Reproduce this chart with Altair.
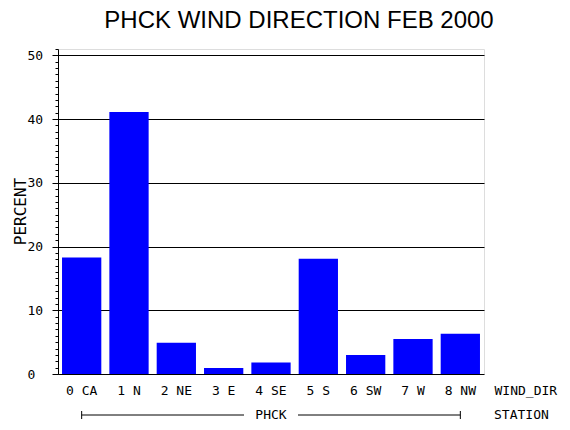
import altair as alt
import pandas as pd

directions = ["0 CA", "1 N", "2 NE", "3 E", "4 SE", "5 S", "6 SW", "7 W", "8 NW"]
percent = [18.3, 41.1, 4.9, 0.95, 1.8, 18.1, 3.0, 5.5, 6.3]
station = "PHCK"
chart_title = "PHCK WIND DIRECTION FEB 2000"
major_ticks = [0, 10, 20, 30, 40, 50]
minor_ticks = list(range(0, 52))

MONO = "DejaVu Sans Mono"

df = pd.DataFrame({"dir": directions, "pct": percent})
bracket = pd.DataFrame({"start": [directions[0]], "mid": [directions[4]], "end": [directions[-1]], "station": [station]})
ends = pd.DataFrame({"dir": [directions[0], directions[-1]]})

xscale = alt.Scale(domain=directions, paddingInner=0.17, paddingOuter=0.085)
yscale = alt.Scale(domain=[0, 51], nice=False)

xaxis = alt.Axis(title="WIND_DIR", labelAngle=0, labelFont=MONO, labelFontSize=13,
                 labelColor="black", ticks=False, domain=False, grid=False,
                 labelPadding=10, titleFont=MONO, titleFontSize=13, titleFontWeight="normal",
                 titleColor="black", titleX=436, titleY=16, titleAlign="left",
                 titleBaseline="middle", titleAngle=0)

bars = alt.Chart(df).mark_bar(color="#0000FF").encode(
    x=alt.X("dir:N", sort=directions, scale=xscale, axis=xaxis),
    y=alt.Y("pct:Q", scale=yscale,
            axis=alt.Axis(orient="left", values=major_ticks, tickSize=6, tickColor="black", labelAlign="left",
                          labelPadding=25, labelFont=MONO, labelFontSize=13, labelColor="black",
                          labelBaseline="middle",
                          grid=True, gridColor="black", gridOpacity=1, gridWidth=1,
                          domain=True, domainColor="black",
                          title="PERCENT", titleFont=MONO, titleFontSize=16, titleFontWeight="normal",
                          titleColor="black", titleAngle=270, titleX=-33, titleY=162,
                          titleBaseline="alphabetic", titleAlign="center")),
)

minor = alt.Chart(df).mark_point(opacity=0).encode(
    x=alt.X("dir:N", sort=directions, scale=xscale, axis=xaxis),
    y=alt.Y("pct:Q", scale=yscale,
            axis=alt.Axis(orient="left", values=minor_ticks, tickSize=3, tickColor="black", labels=False,
                          title=None, domain=False, grid=False)),
)

line_left = alt.Chart(bracket).mark_rule(color="black", x2Offset=-27).encode(
    x=alt.X("start:N", scale=xscale, axis=xaxis), x2="mid:N", y=alt.value(366))
line_right = alt.Chart(bracket).mark_rule(color="black", xOffset=27).encode(
    x=alt.X("mid:N", scale=xscale, axis=xaxis), x2="end:N", y=alt.value(366))
end_ticks = alt.Chart(ends).mark_rule(color="black").encode(
    x=alt.X("dir:N", scale=xscale, axis=xaxis), y=alt.value(362), y2=alt.value(370))
station_text = alt.Chart(bracket).mark_text(font=MONO, fontSize=13, color="black", baseline="middle").encode(
    x=alt.X("mid:N", scale=xscale, axis=xaxis), y=alt.value(366), text="station:N")
station_title = alt.Chart(bracket).mark_text(font=MONO, fontSize=13, color="black", baseline="middle",
                                             align="left").encode(
    x=alt.value(436), y=alt.value(366), text=alt.value("STATION"))
title_text = alt.Chart(bracket).mark_text(font="Liberation Sans", fontSize=24, color="black",
                                          baseline="alphabetic", align="center").encode(
    x=alt.value(241), y=alt.value(-21), text=alt.value(chart_title))

chart = alt.layer(bars, minor, line_left, line_right, end_ticks, station_text, station_title,
                  title_text).resolve_axis(
    y="independent"
).properties(
    width=426, height=325,
    padding={"left": 50, "top": 41, "right": 78, "bottom": 48},
    autosize="none",
).configure_view(stroke="black", strokeWidth=1).configure(background="white")

chart.save("out.html", embed_options={"renderer": "svg", "actions": False})
